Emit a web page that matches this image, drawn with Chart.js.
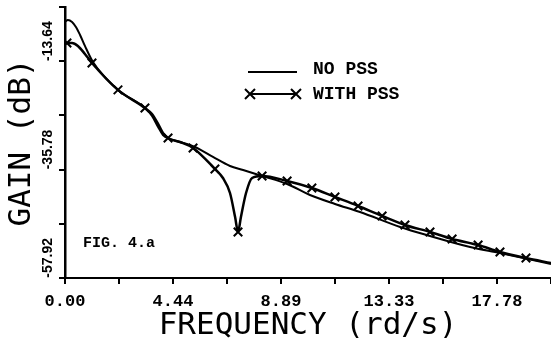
<!DOCTYPE html>
<html>
<head>
<meta charset="utf-8">
<script src="https://cdn.jsdelivr.net/npm/chart.js@4/dist/chart.umd.min.js"></script>
<style>
  html, body { margin: 0; padding: 0; background: #fff; }
</style>
</head>
<body>
<canvas id="chart" width="551" height="338"></canvas>
<script>
// gain vs frequency, fig 4.a (no pss / with pss)

const noFreq = [0, 0.12, 0.29, 0.45, 0.62, 0.82, 1.15, 2.18, 3.29, 3.58, 3.83, 4.03, 4.32, 4.73, 5.35, 6.09, 6.79, 7.33, 8.11, 9.14, 10.08, 11.11, 12.14, 13.79, 15.02, 16.67, 17.9, 20];
const noGain = [-5.62, -5.21, -5.62, -6.64, -8.28, -10.52, -13.79, -19.5, -23.19, -24.82, -27.07, -28.71, -29.52, -30.14, -31.16, -33.2, -35.04, -35.86, -37.08, -38.72, -40.96, -42.8, -44.44, -47.5, -49.34, -51.59, -52.81, -55.06];

const withFreq = [0, 0.08, 0.29, 0.53, 0.82, 1.11, 2.18, 3.29, 3.58, 3.83, 4.03, 4.24, 4.73, 5.27, 6.17, 6.5, 6.79, 7.0, 7.12, 7.24, 7.45, 7.7, 8.11, 9.14, 10.16, 11.11, 12.06, 13.05, 13.99, 15.02, 15.93, 17.0, 17.9, 18.97, 20];
const withGain = [-10.12, -9.91, -9.91, -10.52, -12.16, -14.0, -19.5, -23.19, -24.42, -26.46, -28.3, -29.32, -30.14, -31.36, -35.65, -37.49, -40.56, -45.46, -48.52, -45.46, -40.56, -37.49, -37.08, -38.1, -39.53, -41.37, -43.21, -45.25, -47.09, -48.52, -49.95, -51.18, -52.61, -53.83, -54.86];

// frequencies where the x marks sit on the "with pss" curve
const markFreq = [0.08, 1.11, 2.18, 3.29, 4.24, 5.27, 6.17, 7.12, 8.11, 9.14, 10.16, 11.11, 12.06, 13.05, 13.99, 15.02, 15.93, 17.0, 17.9, 18.97];

const xTicks = [0, 2.2222, 4.4444, 6.6667, 8.8889, 11.1111, 13.3333, 15.5556, 17.7778, 20];
const xTickLabels = ['0.00', '', '4.44', '', '8.89', '', '13.33', '', '17.78', ''];
const yTicks = [-57.92, -46.85, -35.78, -24.71, -13.64, -2.57];
const yTickLabels = ['-57.92', '', '-35.78', '', '-13.64', ''];

function cross(ctx, x, y, r) {
  ctx.beginPath();
  ctx.moveTo(x - r, y - r); ctx.lineTo(x + r, y + r);
  ctx.moveTo(x - r, y + r); ctx.lineTo(x + r, y - r);
  ctx.stroke();
}

// legend and figure tag, drawn on top
const notes = {
  id: 'notes',
  afterDraw(chart) {
    const ctx = chart.ctx;
    ctx.save();
    ctx.strokeStyle = '#000';
    ctx.fillStyle = '#000';
    ctx.lineWidth = 2;
    ctx.beginPath(); ctx.moveTo(248, 72); ctx.lineTo(297, 72); ctx.stroke();
    ctx.beginPath(); ctx.moveTo(250, 94); ctx.lineTo(296, 94); ctx.stroke();
    cross(ctx, 250, 94, 5);
    cross(ctx, 296, 94, 5);
    ctx.font = 'bold 18px "Liberation Mono"';
    ctx.textBaseline = 'middle';
    ctx.fillText('NO PSS', 313, 69);
    ctx.fillText('WITH PSS', 313, 94);
    ctx.font = 'bold 15px "Liberation Mono"';
    ctx.fillText('FIG. 4.a', 83, 243);
    ctx.restore();
  }
};

const ctx = document.getElementById('chart').getContext('2d');
const myChart = new Chart(ctx, {
  type: 'line',
  data: {
    datasets: [{
      label: 'NO PSS',
      data: noFreq.map((f, i) => ({x: f, y: noGain[i]})),
      borderColor: '#000',
      borderWidth: 2,
      pointRadius: 0,
      cubicInterpolationMode: 'monotone'
    }, {
      label: 'WITH PSS',
      data: withFreq.map((f, i) => ({x: f, y: withGain[i]})),
      borderColor: '#000',
      borderWidth: 2.5,
      pointStyle: 'crossRot',
      pointRadius: c => markFreq.includes(withFreq[c.dataIndex]) ? 6 : 0,
      pointBorderWidth: 2,
      pointBorderColor: '#000',
      cubicInterpolationMode: 'monotone'
    }]
  },
  options: {
    responsive: false,
    animation: false,
    layout: { padding: { top: 7, right: 0, bottom: 0, left: 0 } },
    plugins: { legend: { display: false }, tooltip: { enabled: false } },
    scales: {
      x: {
        type: 'linear',
        min: 0,
        max: 20,
        afterBuildTicks: s => { s.ticks = xTicks.map(v => ({value: v})); },
        afterFit: s => { s.height = 60; s.paddingLeft = 0; s.paddingRight = 0; },
        grid: { drawOnChartArea: false, drawTicks: true, tickLength: 6, color: '#000', lineWidth: 2 },
        border: { display: true, color: '#000', width: 2 },
        ticks: {
          autoSkip: false,
          maxRotation: 0,
          padding: 8,
          color: '#000',
          font: { family: 'Liberation Mono', size: 17, weight: 'bold' },
          callback: (v, i) => xTickLabels[i]
        },
        title: {
          display: true,
          text: 'FREQUENCY (rd/s)',
          color: '#000',
          font: { family: 'DejaVu Sans Mono', size: 31, lineHeight: 1 },
          padding: { top: 0, bottom: -3 }
        }
      },
      y: {
        min: -57.92,
        max: -2.57,
        afterBuildTicks: s => { s.ticks = yTicks.map(v => ({value: v})); },
        afterFit: s => { s.width = 65; s.paddingTop = 0; s.paddingBottom = 0; },
        grid: { drawOnChartArea: false, drawTicks: true, tickLength: 6, color: '#000', lineWidth: 2 },
        border: { display: true, color: '#000', width: 2.5 },
        ticks: {
          autoSkip: false,
          minRotation: 90,
          maxRotation: 90,
          crossAlign: 'near',
          padding: 11,
          labelOffset: -40,
          color: '#000',
          font: { family: 'Liberation Sans', size: 14, weight: 'bold' },
          callback: (v, i) => yTickLabels[i]
        },
        title: {
          display: true,
          text: 'GAIN (dB)',
          color: '#000',
          font: { family: 'DejaVu Sans Mono', size: 31, lineHeight: 1 },
          padding: { top: 6, bottom: 0 }
        }
      }
    }
  },
  plugins: [notes]
});
</script>
</body>
</html>
